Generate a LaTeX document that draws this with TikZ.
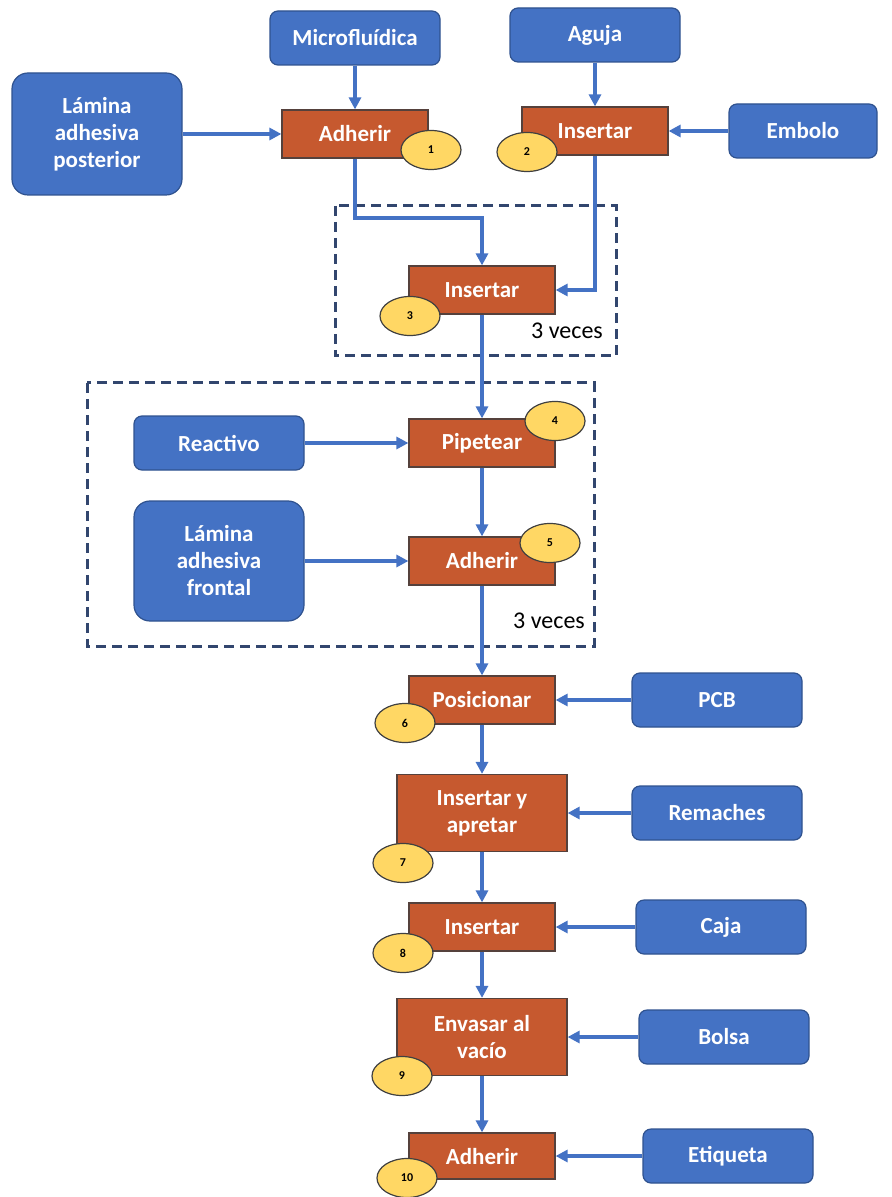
\documentclass[tikz,border=0pt]{standalone}
\usepackage{fontspec}
\setmainfont{Carlito}
\usetikzlibrary{arrows.meta,shapes.geometric}
\definecolor{inblue}{RGB}{68,114,196}
\definecolor{inedge}{RGB}{47,82,143}
\definecolor{procorange}{RGB}{198,89,47}
\definecolor{procedge}{RGB}{85,65,60}
\definecolor{badgeyellow}{RGB}{255,215,100}
\definecolor{flowblue}{RGB}{68,114,196}
\definecolor{dashnavy}{RGB}{50,70,110}
\newcommand\boxfont{\fontsize{11.5}{13.5}\selectfont\bfseries}
\tikzset{
	inbox/.style={draw=inedge, fill=inblue, rounded corners=4pt, text=white, font=\boxfont, minimum width=85pt, minimum height=27pt, align=center, line width=0.6pt},
	proc/.style={draw=procedge, fill=procorange, text=white, font=\boxfont, minimum width=73pt, minimum height=24pt, align=center, line width=0.6pt},
	badge/.style={ellipse, draw=black!75, fill=badgeyellow, minimum width=30pt, minimum height=19.5pt, inner sep=0pt, line width=0.6pt, font=\fontsize{6}{7}\selectfont\bfseries},
	flow/.style={draw=flowblue, line width=1.6pt, -{Triangle[length=6pt,width=6pt]}},
	loopbox/.style={draw=dashnavy, line width=1.5pt, dash pattern=on 5pt off 3pt},
	veces/.style={font=\fontsize{12}{14}\selectfont, text=black, inner sep=0pt}
}

\begin{document}
\begin{tikzpicture}[x=0.5pt, y=-0.5pt]
		%%%%% START %%%%%
		\useasboundingbox (0, 0) rectangle (891, 1197);
		
		% dashed loops
		\draw[loopbox] (335, 206) rectangle (616, 356);
		\draw[loopbox] (87, 383) rectangle (594, 646);
		\node[veces] (v1) at (567, 331) {3 veces};
		\node[veces] (v2) at (549, 621) {3 veces};
		
		% inputs
		\node[inbox] (mic) at (355, 38) {Microfluídica};
		\node[inbox, minimum height=61pt, rounded corners=8pt] (lamp) at (97, 134) {Lámina\\adhesiva\\posterior};
		\node[inbox] (agu) at (595, 35) {Aguja};
		\node[inbox, minimum width=74pt] (emb) at (803, 131) {Embolo};
		\node[inbox] (rea) at (219, 443) {Reactivo};
		\node[inbox, minimum height=60pt, rounded corners=8pt] (lamf) at (219, 561) {Lámina\\adhesiva\\frontal};
		\node[inbox] (pcb) at (717, 700) {PCB};
		\node[inbox] (rem) at (717, 813) {Remaches};
		\node[inbox] (caja) at (721, 927) {Caja};
		\node[inbox] (bol) at (724, 1037) {Bolsa};
		\node[inbox] (eti) at (728, 1156) {Etiqueta};
		
		% process steps
		\node[proc] (ad1) at (355, 134) {Adherir};
		\node[proc] (ins2) at (595, 131) {Insertar};
		\node[proc] (ins3) at (482, 290) {Insertar};
		\node[proc] (pip) at (482, 443) {Pipetear};
		\node[proc] (ad5) at (482, 561) {Adherir};
		\node[proc] (pos) at (482, 700) {Posicionar};
		\node[proc, minimum width=85pt, minimum height=38.5pt] (iya) at (482, 813) {Insertar y\\apretar};
		\node[proc] (ins8) at (482, 927) {Insertar};
		\node[proc, minimum width=85pt, minimum height=38.5pt] (env) at (482, 1037) {Envasar al\\vacío};
		\node[proc, minimum height=23pt] (ad10) at (482, 1156) {Adherir};
		
		% step numbers
		\node[badge] (b1) at (431, 150) {1};
		\node[badge] (b2) at (527, 152) {2};
		\node[badge] (b3) at (410, 316) {3};
		\node[badge] (b4) at (555, 421) {4};
		\node[badge] (b5) at (550, 543) {5};
		\node[badge] (b6) at (405, 723) {6};
		\node[badge] (b7) at (403, 863) {7};
		\node[badge] (b8) at (403, 953) {8};
		\node[badge] (b9) at (402, 1076) {9};
		\node[badge] (b10) at (407, 1178) {10};
		
		% connectors
		\coordinate (j1) at (420, 218);
		\draw[flow] (mic) -- (ad1);
		\draw[flow] (lamp) -- (ad1);
		\draw[flow] (agu) -- (ins2);
		\draw[flow] (emb) -- (ins2);
		\draw[flow] (ad1) |- (j1) -| (ins3);
		\draw[flow] (ins2) |- (ins3);
		\draw[flow] (ins3) -- (pip);
		\draw[flow] (rea) -- (pip);
		\draw[flow] (pip) -- (ad5);
		\draw[flow] (lamf) -- (ad5);
		\draw[flow] (ad5) -- (pos);
		\draw[flow] (pcb) -- (pos);
		\draw[flow] (pos) -- (iya);
		\draw[flow] (rem) -- (iya);
		\draw[flow] (iya) -- (ins8);
		\draw[flow] (caja) -- (ins8);
		\draw[flow] (ins8) -- (env);
		\draw[flow] (bol) -- (env);
		\draw[flow] (env) -- (ad10);
		\draw[flow] (eti) -- (ad10);
		
		%%%%% END %%%%%
	\end{tikzpicture}
\end{document}
